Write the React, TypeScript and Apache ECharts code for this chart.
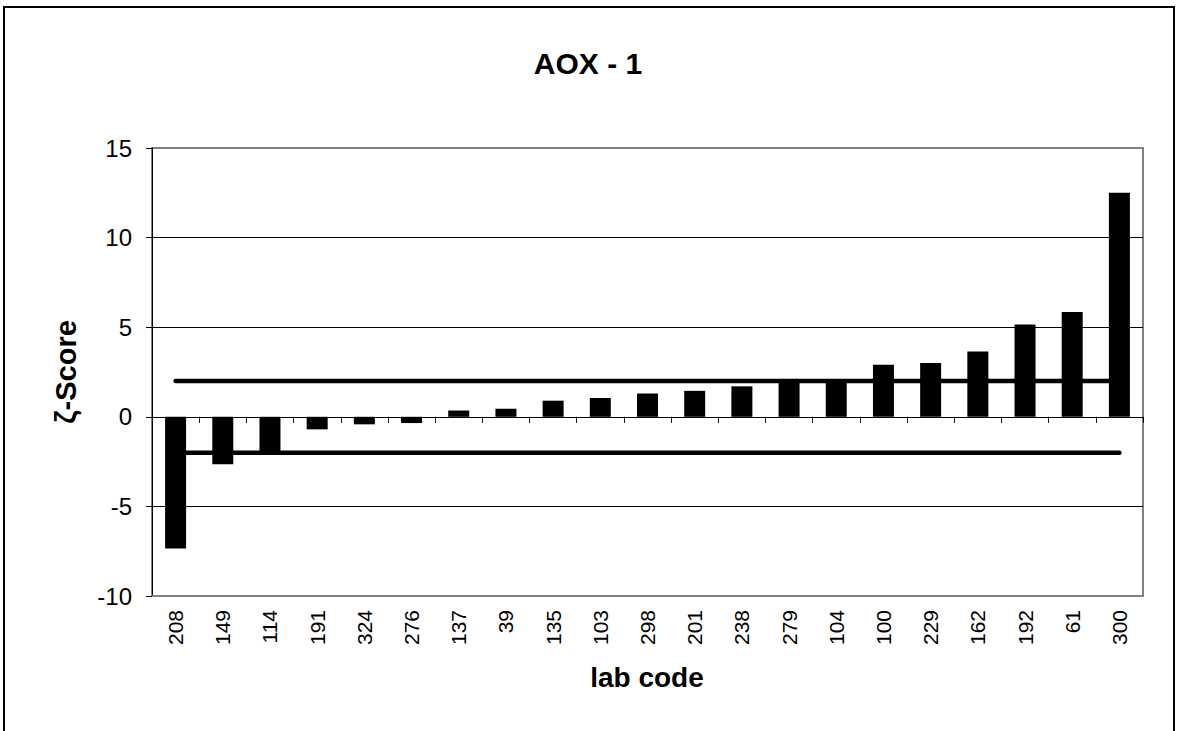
import React, { useEffect, useRef } from "react";
import * as echarts from "echarts";

const labCodes = ["208", "149", "114", "191", "324", "276", "137", "39", "135", "103", "298", "201", "238", "279", "104", "100", "229", "162", "192", "61", "300"];
const zetaScores = [-7.35, -2.65, -2.05, -0.7, -0.42, -0.35, 0.35, 0.45, 0.9, 1.05, 1.3, 1.45, 1.7, 2.1, 2.1, 2.9, 3.0, 3.65, 5.15, 5.85, 12.5];
const upperLimit = labCodes.map(() => 2);
const lowerLimit = labCodes.map(() => -2);
const yTicks = { min: -10, max: 15, interval: 5 };

const FONT = "'Liberation Sans', Arial, Helvetica, sans-serif";

export default function App() {
  const ref = useRef<HTMLDivElement>(null);
  useEffect(() => {
    if (!ref.current) return;
    const chart = echarts.init(ref.current, null, { renderer: "svg" });
    chart.setOption({
      animation: false,
      backgroundColor: "#fff",
      textStyle: { fontFamily: FONT },
      grid: {
        left: 152,
        top: 148,
        right: 34,
        bottom: 135,
        show: true,
        borderColor: "#808080",
        borderWidth: 2,
        backgroundColor: "#fff",
      },
      graphic: [
        {
          type: "rect",
          shape: { x: 4, y: 7, width: 1170, height: 740 },
          style: { fill: "none", stroke: "#000", lineWidth: 2 },
          z: 100,
          silent: true,
        },
        {
          type: "text",
          x: 588,
          y: 63,
          style: { text: "AOX - 1", fontSize: 30, fontWeight: "bold", fontFamily: FONT, fill: "#000", align: "center", verticalAlign: "middle" },
        },
        {
          type: "text",
          x: 66,
          y: 372,
          rotation: Math.PI / 2,
          style: { text: "ζ-Score", fontSize: 29, fontWeight: "bold", fontFamily: FONT, fill: "#000", align: "center", verticalAlign: "middle" },
        },
        {
          type: "text",
          x: 647,
          y: 677,
          style: { text: "lab code", fontSize: 28, fontWeight: "bold", fontFamily: FONT, fill: "#000", align: "center", verticalAlign: "middle" },
        },
      ],
      xAxis: [
        {
          type: "category",
          data: labCodes,
          position: "bottom",
          axisLine: { onZero: false, lineStyle: { color: "#808080", width: 2 } },
          axisTick: { show: false },
          axisLabel: { rotate: 90, fontSize: 21, color: "#000", margin: 14, fontFamily: FONT, interval: 0 },
          splitLine: { show: false },
        },
        {
          type: "category",
          data: labCodes,
          position: "top",
          axisLine: { show: true, onZero: true, lineStyle: { color: "#000", width: 1 } },
          axisTick: { show: true, inside: true, length: 6, lineStyle: { color: "#000" } },
          axisLabel: { show: false },
          splitLine: { show: false },
        },
      ],
      yAxis: {
        type: "value",
        min: yTicks.min,
        max: yTicks.max,
        interval: yTicks.interval,
        axisLine: { show: true, onZero: false, lineStyle: { color: "#000", width: 1 } },
        axisTick: { show: true, length: 6, lineStyle: { color: "#000" } },
        axisLabel: { fontSize: 24, color: "#000", margin: 20, fontFamily: FONT },
        splitLine: {
          show: true,
          lineStyle: { color: ["rgba(0,0,0,0)", "#000", "#000", "#000", "#000", "rgba(0,0,0,0)"], width: 1 },
        },
      },
      series: [
        {
          type: "bar",
          data: zetaScores,
          xAxisIndex: 0,
          barWidth: 21,
          itemStyle: { color: "#000" },
          z: 2,
        },
        {
          type: "line",
          data: upperLimit,
          xAxisIndex: 0,
          symbol: "none",
          lineStyle: { color: "#000", width: 4.5, cap: "round" },
          z: 3,
        },
        {
          type: "line",
          data: lowerLimit,
          xAxisIndex: 0,
          symbol: "none",
          lineStyle: { color: "#000", width: 4.5, cap: "round" },
          z: 3,
        },
      ],
    });
    return () => chart.dispose();
  }, []);
  return <div ref={ref} style={{ position: "absolute", left: 0, top: 0, width: 1177, height: 731 }} />;
}
